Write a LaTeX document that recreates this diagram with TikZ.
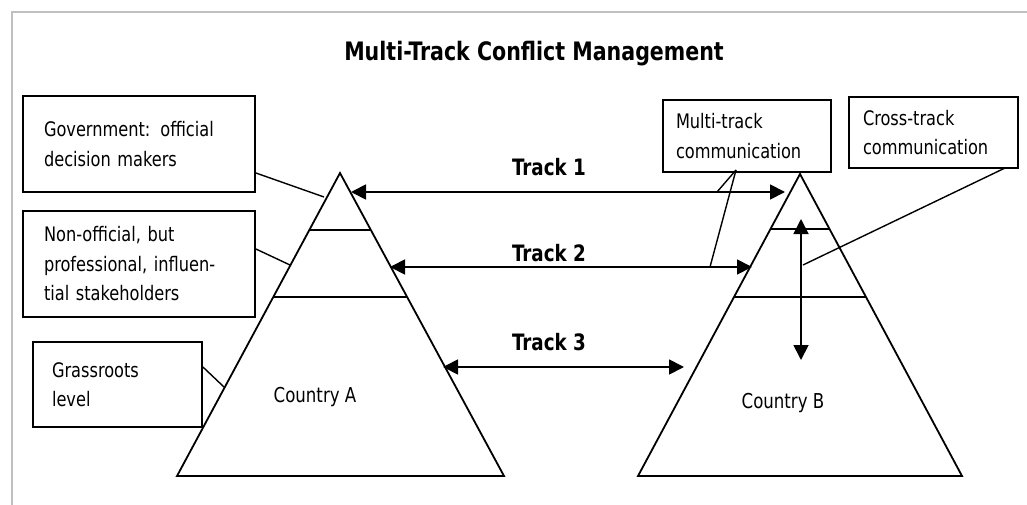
\documentclass[tikz,border=0pt]{standalone}
\usepackage{fontspec}
\setmainfont{DejaVu Sans Condensed}[FakeStretch=0.9]
\usetikzlibrary{arrows.meta}
\begin{document}
\begin{tikzpicture}[x=1pt,y=-1pt,
  txt/.style={font=\fontsize{20}{29.5}\selectfont},
  box/.style={draw, line width=1.8pt, txt, align=left, inner ysep=0pt},
  ln/.style={line width=1.8pt},
  link/.style={line width=1.4pt},
  arr/.style={line width=1.8pt, {Triangle[length=15pt,width=15pt]}-{Triangle[length=15pt,width=15pt]}},
  trk/.style={font=\fontsize{22.6}{26}\selectfont\bfseries},
  ctry/.style={font=\fontsize{20.5}{24}\selectfont},
]
\useasboundingbox (0,0) rectangle (1027,505);
\fill[white] (0,0) rectangle (1027,505);
\draw[line width=2pt, color={rgb,255:red,192;green,192;blue,192}] (12,505) -- (12,12) -- (1027,12);

\node[font=\fontsize{25.4}{28}\selectfont\bfseries] (title) at (534,54) {Multi-Track Conflict Management};

% boxes
\node[box, minimum width=232pt, minimum height=96pt, text width=190pt, inner xsep=21pt] (gov) at (139,144) {Government: official\\decision makers};
\node[box, minimum width=232pt, minimum height=106pt, text width=190pt, inner xsep=21pt] (non) at (139,264) {Non-official, but\\professional, influen-\\tial stakeholders};
\node[box, minimum width=169pt, minimum height=85pt, text width=131pt, inner xsep=19pt] (grass) at (117.5,384.5) {Grassroots\\level};
\node[box, minimum width=168pt, minimum height=72pt, text width=142pt, inner xsep=13pt] (multi) at (747,136) {Multi-track\\communication};
\node[box, minimum width=169pt, minimum height=71pt, text width=141pt, inner xsep=14pt] (cross) at (933.5,132.5) {Cross-track\\communication};

% triangle A
\coordinate (Aapex) at (340,173);
\coordinate (Abl) at (177,476);
\coordinate (Abr) at (504,476);
\draw[ln, line join=miter] (Aapex) -- (Abl) -- (Abr) -- cycle;
\coordinate (A1l) at (310,230); \coordinate (A1r) at (370,230);
\coordinate (A2l) at (274,297); \coordinate (A2r) at (407,297);
\draw[ln] (A1l) -- (A1r);
\draw[ln] (A2l) -- (A2r);
\node[ctry] (ca) at (315,397) {Country A};

% triangle B
\coordinate (Bapex) at (800,174);
\coordinate (Bbl) at (638,476);
\coordinate (Bbr) at (962,476);
\draw[ln, line join=miter] (Bapex) -- (Bbl) -- (Bbr) -- cycle;
\coordinate (B1l) at (771,229); \coordinate (B1r) at (830,229);
\coordinate (B2l) at (734,297); \coordinate (B2r) at (866,297);
\draw[ln] (B1l) -- (B1r);
\draw[ln] (B2l) -- (B2r);
\node[ctry] (cb) at (783,403) {Country B};

% tracks
\coordinate (t1a) at (351,192); \coordinate (t1b) at (785,192);
\coordinate (t2a) at (390,267); \coordinate (t2b) at (752,267);
\coordinate (t3a) at (443,367); \coordinate (t3b) at (684,367);
\draw[arr] (t1a) -- (t1b);
\draw[arr] (t2a) -- (t2b);
\draw[arr] (t3a) -- (t3b);
\node[trk] (tr1) at (549,167) {Track 1};
\node[trk] (tr2) at (549,253) {Track 2};
\node[trk] (tr3) at (549,342) {Track 3};

% vertical cross-track arrow
\coordinate (vtop) at (801,219); \coordinate (vbot) at (801,360);
\draw[arr] (vtop) -- (vbot);

% connectors
\draw[link] (gov.east |- 0,173) -- (324,197);
\draw[link] (non.east |- 0,249) -- (290,265);
\draw[link] (grass.east |- 0,367) -- (224,387);
\coordinate (m0) at (736,170);
\coordinate (m1) at (717,192);
\coordinate (m2) at (710,267);
\draw[link] (m0) -- (m1);
\draw[link] (m0) -- (m2);
\coordinate (c0) at (1005,168);
\coordinate (c1) at (803,265);
\draw[link] (c0) -- (c1);
\end{tikzpicture}
\end{document}
